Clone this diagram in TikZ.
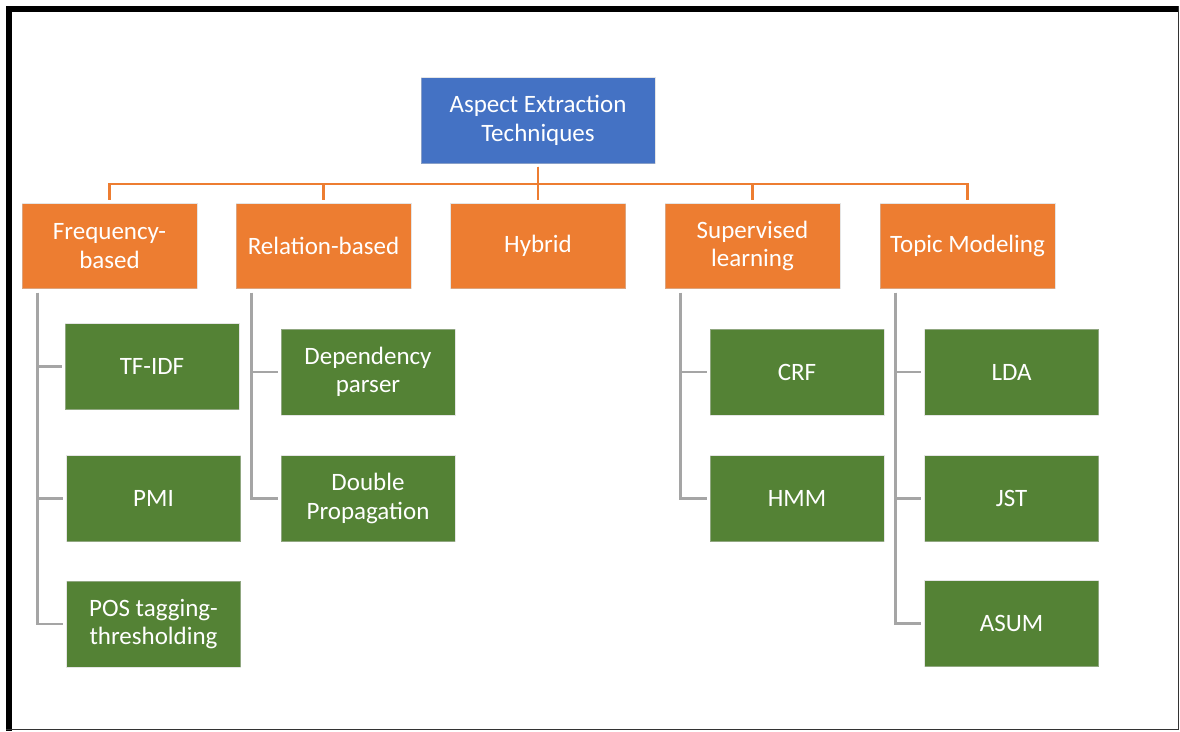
\documentclass[tikz,border=0pt]{standalone}
\usepackage{fontspec}
\setmainfont{Carlito}
\definecolor{rootblue}{HTML}{4472C4}
\definecolor{catorange}{HTML}{ED7D31}
\definecolor{leafgreen}{HTML}{548235}
\definecolor{linkgray}{HTML}{A5A5A5}
\begin{document}
\begin{tikzpicture}[x=1pt,y=-1pt,
  box/.style={rectangle, draw=white!80!black, draw opacity=0.5, line width=0.8pt,
    text=white, align=center, inner sep=0pt,
    font=\fontsize{25}{28.5}\selectfont},
  rootbox/.style={box, fill=rootblue, minimum width=234pt, minimum height=86pt},
  catbox/.style={box, fill=catorange, minimum width=175pt, minimum height=85pt},
  leafbox/.style={box, fill=leafgreen, minimum width=174pt, minimum height=86pt},
  oline/.style={draw=catorange, line width=2.4pt},
  gline/.style={draw=linkgray, line width=2.4pt}]

\useasboundingbox (0,0) rectangle (1180,731);
\fill[white] (0,0) rectangle (1180,731);

% page frame: heavy top and left edges, thin right and bottom edges
\fill[black] (6,6) rectangle (12,731);
\fill[black] (6,6) rectangle (1179,12);
\draw[black!80, line width=1.2pt] (1178.5,6) -- (1178.5,730);
\draw[black!80, line width=1.2pt] (6,729.6) -- (1179,729.6);

% root
\node[rootbox] (root) at (538,120.5) {Aspect Extraction\\Techniques};

% categories
\node[catbox] (freq) at (109.5,246) {Frequency-\\based};
\node[catbox] (rel)  at (323.5,246) {Relation-based};
\node[catbox] (hyb)  at (538,246)   {Hybrid};
\node[catbox] (sup)  at (752.5,246) {Supervised\\learning};
\node[catbox] (top)  at (967.5,246) {Topic Modeling};

% leaves
\node[leafbox] (tfidf) at (152,366.5) {TF-IDF};
\node[leafbox] (pmi)   at (153.5,498.5) {PMI};
\node[leafbox] (pos)   at (153.5,624) {POS tagging-\\thresholding};

\node[leafbox] (dep)   at (368,372) {Dependency\\parser};
\node[leafbox] (dbl)   at (368,498.5) {Double\\Propagation};

\node[leafbox] (crf)   at (797,372) {CRF};
\node[leafbox] (hmm)   at (797,498.5) {HMM};

\node[leafbox] (lda)   at (1011.5,372) {LDA};
\node[leafbox] (jst)   at (1011.5,498.5) {JST};
\node[leafbox] (asum)  at (1011.5,623.5) {ASUM};

% bus from the root to the categories
\coordinate (bus) at (538,184);
\foreach \c in {freq,rel,hyb,sup,top}{
  \draw[oline] ([yshift=-3pt]root.south) -- (root.south |- bus) -| ([yshift=3pt]\c.north);
}

% category-to-leaf links
\foreach \p/\c in {freq/tfidf,freq/pmi,freq/pos,rel/dep,rel/dbl,sup/crf,sup/hmm,top/lda,top/jst,top/asum}{
  \draw[gline] ([xshift=16pt,yshift=-4pt]\p.south west) |- ([xshift=-3pt]\c.west);
}
\end{tikzpicture}
\end{document}
